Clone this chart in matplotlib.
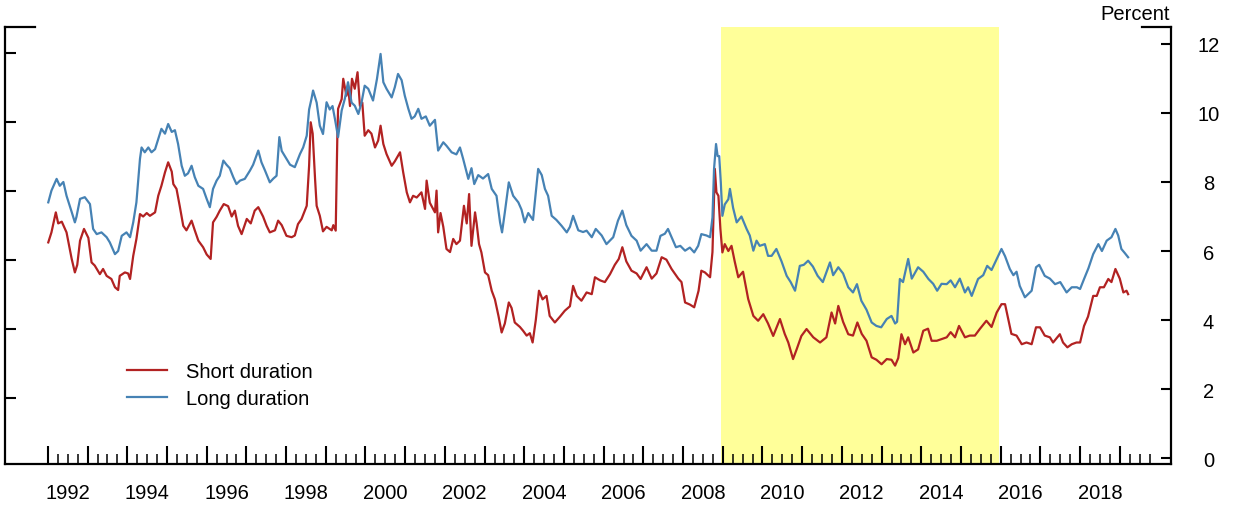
import numpy as np
import matplotlib
matplotlib.use("Agg")
import matplotlib.pyplot as plt
from matplotlib.ticker import FixedLocator, FuncFormatter

plt.rcParams['font.family'] = ['Liberation Sans', 'DejaVu Sans']

# long duration series (decimal year, percent)
long_dates = [
    1992.01, 1992.09, 1992.22, 1992.30, 1992.39, 1992.47, 1992.60, 1992.68, 1992.72, 1992.81,
    1992.93, 1993.06, 1993.14, 1993.23, 1993.35, 1993.48, 1993.56, 1993.69, 1993.77, 1993.86,
    1993.98, 1994.07, 1994.15, 1994.23, 1994.32, 1994.36, 1994.44, 1994.53, 1994.61, 1994.70,
    1994.78, 1994.86, 1994.95, 1995.03, 1995.12, 1995.20, 1995.28, 1995.37, 1995.45, 1995.53,
    1995.62, 1995.70, 1995.79, 1995.91, 1996.00, 1996.08, 1996.16, 1996.25, 1996.33, 1996.42,
    1996.50, 1996.58, 1996.67, 1996.75, 1996.84, 1996.96, 1997.09, 1997.17, 1997.30, 1997.38,
    1997.47, 1997.59, 1997.68, 1997.76, 1997.83, 1997.89, 1998.01, 1998.10, 1998.22, 1998.35,
    1998.43, 1998.52, 1998.58, 1998.64, 1998.68, 1998.77, 1998.85, 1998.93, 1999.02, 1999.10,
    1999.17, 1999.23, 1999.31, 1999.40, 1999.48, 1999.56, 1999.65, 1999.73, 1999.82, 1999.90,
    1999.98, 2000.07, 2000.19, 2000.29, 2000.38, 2000.45, 2000.53, 2000.66, 2000.74, 2000.82,
    2000.91, 2000.99, 2001.08, 2001.16, 2001.24, 2001.33, 2001.41, 2001.52, 2001.62, 2001.75,
    2001.83, 2001.96, 2002.04, 2002.17, 2002.29, 2002.38, 2002.46, 2002.59, 2002.67, 2002.74,
    2002.84, 2002.96, 2003.09, 2003.18, 2003.30, 2003.39, 2003.44, 2003.51, 2003.61, 2003.72,
    2003.85, 2003.93, 2004.01, 2004.10, 2004.22, 2004.35, 2004.44, 2004.52, 2004.60, 2004.69,
    2004.81, 2004.94, 2005.07, 2005.15, 2005.23, 2005.36, 2005.48, 2005.57, 2005.70, 2005.80,
    2005.95, 2006.07, 2006.24, 2006.36, 2006.47, 2006.57, 2006.70, 2006.83, 2006.93, 2007.08,
    2007.21, 2007.33, 2007.43, 2007.54, 2007.62, 2007.71, 2007.82, 2007.93, 2008.05, 2008.17,
    2008.28, 2008.38, 2008.46, 2008.59, 2008.68, 2008.74, 2008.78, 2008.83, 2008.87, 2008.91,
    2008.95, 2008.99, 2009.05, 2009.14, 2009.18, 2009.26, 2009.35, 2009.47, 2009.60, 2009.68,
    2009.77, 2009.85, 2009.93, 2010.06, 2010.14, 2010.23, 2010.35, 2010.48, 2010.61, 2010.71,
    2010.82, 2010.94, 2011.04, 2011.15, 2011.27, 2011.39, 2011.52, 2011.70, 2011.78, 2011.91,
    2012.03, 2012.16, 2012.28, 2012.38, 2012.49, 2012.62, 2012.75, 2012.87, 2012.99, 2013.13,
    2013.25, 2013.34, 2013.39, 2013.46, 2013.54, 2013.67, 2013.76, 2013.92, 2014.05, 2014.18,
    2014.30, 2014.40, 2014.51, 2014.64, 2014.74, 2014.85, 2014.97, 2015.10, 2015.18, 2015.27,
    2015.43, 2015.56, 2015.66, 2015.77, 2015.88, 2016.02, 2016.11, 2016.23, 2016.32, 2016.40,
    2016.48, 2016.61, 2016.69, 2016.78, 2016.89, 2016.97, 2017.11, 2017.24, 2017.37, 2017.50,
    2017.58, 2017.66, 2017.79, 2017.92, 2018.00, 2018.10, 2018.21, 2018.33, 2018.46, 2018.55,
    2018.67, 2018.79, 2018.89, 2018.96, 2019.04, 2019.12, 2019.21,
]
long_vals = [
    7.41, 7.75, 8.09, 7.89, 8.00, 7.60, 7.13, 6.83, 6.99, 7.51,
    7.56, 7.36, 6.64, 6.49, 6.54, 6.40, 6.25, 5.91, 6.00, 6.44,
    6.54, 6.40, 6.83, 7.41, 8.67, 9.00, 8.86, 9.00, 8.86, 8.95,
    9.25, 9.54, 9.40, 9.68, 9.45, 9.50, 9.10, 8.47, 8.18, 8.25,
    8.47, 8.14, 7.89, 7.80, 7.51, 7.27, 7.80, 8.04, 8.18, 8.62,
    8.50, 8.40, 8.14, 7.94, 8.04, 8.09, 8.33, 8.50, 8.91, 8.57,
    8.33, 7.99, 8.10, 8.18, 9.30, 8.90, 8.67, 8.50, 8.43, 8.81,
    9.00, 9.34, 10.10, 10.41, 10.65, 10.30, 9.63, 9.39, 10.31, 10.10,
    10.20, 9.83, 9.30, 10.07, 10.41, 10.89, 10.30, 10.21, 9.97, 10.30,
    10.79, 10.70, 10.36, 10.99, 11.71, 10.89, 10.70, 10.45, 10.75, 11.13,
    10.95, 10.50, 10.12, 9.83, 9.90, 10.12, 9.83, 9.90, 9.63, 9.80,
    8.91, 9.15, 9.05, 8.86, 8.80, 9.00, 8.67, 8.09, 8.40, 7.94,
    8.20, 8.10, 8.23, 7.80, 7.60, 6.83, 6.54, 7.12, 7.99, 7.60,
    7.41, 7.20, 6.83, 7.10, 6.90, 8.38, 8.20, 7.80, 7.60, 7.02,
    6.90, 6.73, 6.54, 6.70, 7.02, 6.60, 6.55, 6.59, 6.40, 6.64,
    6.45, 6.20, 6.40, 6.88, 7.17, 6.75, 6.44, 6.30, 6.01, 6.20,
    6.01, 6.01, 6.44, 6.50, 6.64, 6.40, 6.11, 6.15, 6.01, 6.10,
    5.96, 6.15, 6.49, 6.45, 6.40, 6.97, 8.38, 9.10, 8.75, 8.75,
    7.99, 7.02, 7.35, 7.50, 7.80, 7.25, 6.83, 7.00, 6.64, 6.45,
    6.01, 6.30, 6.15, 6.20, 5.86, 5.86, 6.06, 5.70, 5.28, 5.10,
    4.85, 5.57, 5.60, 5.72, 5.55, 5.28, 5.10, 5.67, 5.30, 5.53,
    5.35, 4.95, 4.80, 5.04, 4.56, 4.30, 3.93, 3.83, 3.79, 4.03,
    4.12, 3.90, 3.95, 5.19, 5.10, 5.77, 5.20, 5.53, 5.40, 5.19,
    5.05, 4.85, 5.05, 5.04, 5.15, 4.95, 5.20, 4.80, 4.95, 4.70,
    5.19, 5.30, 5.57, 5.45, 5.72, 6.06, 5.85, 5.48, 5.30, 5.40,
    4.99, 4.66, 4.75, 4.85, 5.53, 5.60, 5.28, 5.20, 5.04, 5.10,
    4.95, 4.80, 4.95, 4.95, 4.90, 5.19, 5.50, 5.91, 6.20, 6.00,
    6.30, 6.40, 6.64, 6.45, 6.06, 5.95, 5.82,
]

# short duration series (decimal year, percent)
short_dates = [
    1992.01, 1992.09, 1992.20, 1992.26, 1992.35, 1992.47, 1992.60, 1992.68, 1992.74, 1992.81,
    1992.91, 1993.02, 1993.10, 1993.18, 1993.31, 1993.39, 1993.48, 1993.60, 1993.69, 1993.77,
    1993.81, 1993.94, 1994.02, 1994.07, 1994.15, 1994.23, 1994.32, 1994.40, 1994.49, 1994.57,
    1994.70, 1994.78, 1994.86, 1994.95, 1995.03, 1995.12, 1995.16, 1995.24, 1995.32, 1995.41,
    1995.49, 1995.62, 1995.70, 1995.79, 1995.91, 1996.00, 1996.10, 1996.16, 1996.25, 1996.33,
    1996.43, 1996.54, 1996.63, 1996.71, 1996.79, 1996.88, 1997.01, 1997.11, 1997.21, 1997.30,
    1997.42, 1997.51, 1997.59, 1997.72, 1997.80, 1997.89, 1998.01, 1998.14, 1998.22, 1998.30,
    1998.39, 1998.52, 1998.58, 1998.62, 1998.67, 1998.73, 1998.77, 1998.85, 1998.93, 1999.02,
    1999.15, 1999.19, 1999.25, 1999.29, 1999.31, 1999.40, 1999.44, 1999.52, 1999.56, 1999.61,
    1999.66, 1999.73, 1999.80, 1999.86, 1999.92, 1999.98, 2000.07, 2000.15, 2000.24, 2000.32,
    2000.38, 2000.45, 2000.53, 2000.66, 2000.74, 2000.87, 2000.95, 2001.04, 2001.12, 2001.20,
    2001.29, 2001.41, 2001.50, 2001.54, 2001.62, 2001.75, 2001.79, 2001.83, 2001.89, 2001.96,
    2002.04, 2002.13, 2002.21, 2002.29, 2002.38, 2002.48, 2002.55, 2002.61, 2002.67, 2002.76,
    2002.80, 2002.86, 2002.92, 2003.01, 2003.09, 2003.18, 2003.26, 2003.35, 2003.43, 2003.51,
    2003.61, 2003.68, 2003.76, 2003.89, 2003.97, 2004.06, 2004.14, 2004.21, 2004.29, 2004.37,
    2004.46, 2004.56, 2004.64, 2004.77, 2004.90, 2005.02, 2005.15, 2005.23, 2005.32, 2005.44,
    2005.57, 2005.70, 2005.78, 2005.91, 2006.03, 2006.16, 2006.28, 2006.38, 2006.47, 2006.57,
    2006.70, 2006.83, 2006.93, 2007.08, 2007.21, 2007.33, 2007.46, 2007.58, 2007.71, 2007.88,
    2007.96, 2008.05, 2008.17, 2008.28, 2008.39, 2008.46, 2008.55, 2008.68, 2008.74, 2008.80,
    2008.84, 2008.89, 2008.94, 2008.99, 2009.05, 2009.14, 2009.22, 2009.30, 2009.39, 2009.51,
    2009.64, 2009.77, 2009.89, 2010.02, 2010.14, 2010.27, 2010.44, 2010.56, 2010.65, 2010.77,
    2010.86, 2010.98, 2011.11, 2011.28, 2011.45, 2011.61, 2011.74, 2011.83, 2011.91, 2012.03,
    2012.16, 2012.28, 2012.39, 2012.50, 2012.62, 2012.75, 2012.87, 2013.00, 2013.13, 2013.25,
    2013.34, 2013.42, 2013.50, 2013.59, 2013.67, 2013.80, 2013.92, 2014.05, 2014.17, 2014.26,
    2014.39, 2014.64, 2014.74, 2014.85, 2014.95, 2015.10, 2015.22, 2015.35, 2015.48, 2015.64,
    2015.77, 2015.90, 2016.02, 2016.11, 2016.19, 2016.27, 2016.40, 2016.53, 2016.65, 2016.78,
    2016.89, 2016.99, 2017.11, 2017.24, 2017.32, 2017.49, 2017.57, 2017.68, 2017.79, 2017.91,
    2018.00, 2018.10, 2018.20, 2018.33, 2018.42, 2018.50, 2018.60, 2018.71, 2018.79, 2018.89,
    2019.00, 2019.09, 2019.17, 2019.21,
]
short_vals = [
    6.25, 6.54, 7.12, 6.80, 6.85, 6.54, 5.77, 5.38, 5.60, 6.30,
    6.64, 6.38, 5.67, 5.58, 5.33, 5.48, 5.28, 5.19, 4.95, 4.87,
    5.28, 5.38, 5.35, 5.19, 5.86, 6.35, 7.07, 7.00, 7.10, 7.02,
    7.12, 7.60, 7.89, 8.28, 8.57, 8.30, 7.94, 7.80, 7.31, 6.73,
    6.60, 6.88, 6.60, 6.30, 6.11, 5.90, 5.77, 6.83, 6.99, 7.17,
    7.36, 7.30, 7.00, 7.17, 6.73, 6.49, 6.93, 6.80, 7.17, 7.27,
    7.00, 6.73, 6.54, 6.60, 6.88, 6.75, 6.44, 6.40, 6.45, 6.78,
    6.93, 7.31, 8.47, 9.73, 9.40, 8.09, 7.31, 7.02, 6.57, 6.70,
    6.60, 6.75, 6.59, 9.25, 10.12, 10.40, 10.99, 10.50, 10.80, 10.20,
    10.99, 10.70, 11.18, 10.20, 10.30, 9.34, 9.50, 9.40, 9.00, 9.20,
    9.63, 9.10, 8.81, 8.47, 8.60, 8.86, 8.28, 7.70, 7.41, 7.60,
    7.55, 7.70, 7.22, 8.04, 7.40, 7.12, 7.75, 6.54, 7.10, 6.70,
    6.06, 5.97, 6.35, 6.20, 6.30, 7.31, 6.80, 7.65, 6.15, 7.12,
    6.80, 6.20, 5.96, 5.38, 5.30, 4.85, 4.60, 4.12, 3.64, 3.90,
    4.51, 4.35, 3.93, 3.80, 3.69, 3.55, 3.62, 3.35, 4.00, 4.85,
    4.60, 4.70, 4.12, 3.93, 4.10, 4.27, 4.40, 4.99, 4.70, 4.56,
    4.80, 4.75, 5.24, 5.15, 5.10, 5.33, 5.60, 5.77, 6.11, 5.70,
    5.43, 5.35, 5.19, 5.53, 5.20, 5.35, 5.82, 5.75, 5.48, 5.20,
    5.10, 4.51, 4.45, 4.37, 4.85, 5.43, 5.38, 5.24, 5.97, 8.38,
    7.70, 7.60, 6.64, 5.96, 6.20, 6.00, 6.15, 5.70, 5.24, 5.40,
    4.61, 4.12, 3.98, 4.17, 3.90, 3.54, 4.03, 3.60, 3.35, 2.87,
    3.15, 3.54, 3.74, 3.50, 3.35, 3.50, 4.22, 3.90, 4.41, 3.95,
    3.59, 3.55, 3.93, 3.60, 3.40, 2.92, 2.85, 2.72, 2.87, 2.85,
    2.68, 2.90, 3.59, 3.30, 3.50, 3.06, 3.15, 3.69, 3.75, 3.40,
    3.40, 3.50, 3.65, 3.50, 3.83, 3.50, 3.55, 3.55, 3.75, 3.98,
    3.80, 4.22, 4.46, 4.46, 4.03, 3.60, 3.55, 3.30, 3.35, 3.30,
    3.79, 3.79, 3.55, 3.50, 3.35, 3.59, 3.35, 3.21, 3.30, 3.35,
    3.35, 3.83, 4.10, 4.70, 4.70, 4.95, 4.95, 5.19, 5.10, 5.48,
    5.20, 4.80, 4.85, 4.75,
]

shade_start, shade_end = 2008.96, 2015.96
year_labels = list(range(1992, 2019, 2))
right_ticks = [0, 2, 4, 6, 8, 10, 12]
left_ticks = [1.75, 3.75, 5.75, 7.75, 9.75, 11.75]

red = "#B22222"
blue = "#4682B4"
fs = 14.5

fig = plt.figure(figsize=(12.33, 5.06), dpi=100)
ax = fig.add_axes([5/1233, 41/506, 1166/1233, 437/506])
ax.set_xlim(1990.92, 2020.29)
ax.set_ylim(-0.17, 12.49)

ax.axvspan(shade_start, shade_end, color="#FFFF99", lw=0, zorder=0)
ax.plot(short_dates, short_vals, color=red, lw=1.6, label="Short duration", zorder=3)
ax.plot(long_dates, long_vals, color=blue, lw=1.6, label="Long duration", zorder=3)

for s in ["top", "right"]:
    ax.spines[s].set_visible(False)
for s in ["left", "bottom"]:
    ax.spines[s].set_linewidth(1.6)

# short top stubs at both corners
ax.plot([0, 0.0257], [1, 1], transform=ax.transAxes, color="black", lw=1.6, clip_on=False, solid_capstyle="projecting")
ax.plot([0.9755, 1], [1, 1], transform=ax.transAxes, color="black", lw=1.6, clip_on=False, solid_capstyle="projecting")

# x ticks: year starts (major), quarters (minor), labels at mid-year
ax.xaxis.set_major_locator(FixedLocator(np.arange(1992, 2020)))
minor_pos = [y + q for y in range(1992, 2020) for q in (0.25, 0.5, 0.75)]
ax.xaxis.set_minor_locator(FixedLocator(minor_pos))
ax.xaxis.set_major_formatter(FuncFormatter(lambda v, p: ""))

def mid_label(v, p):
    yr = int(np.floor(v))
    if abs(v - yr - 0.5) < 0.01 and yr in year_labels:
        return str(yr)
    return ""

ax.xaxis.set_minor_formatter(FuncFormatter(mid_label))
ax.tick_params(axis="x", which="major", direction="in", length=13, width=1.5)
ax.tick_params(axis="x", which="minor", direction="in", length=7, width=1.1,
               labelsize=fs, pad=13.5)

# left ticks without labels
ax.set_yticks(left_ticks)
ax.tick_params(axis="y", which="major", direction="in", length=8, width=1.5,
               labelleft=False)

# right axis with labels
ax2 = ax.twinx()
ax2.set_ylim(ax.get_ylim())
for s in ["top", "left", "bottom"]:
    ax2.spines[s].set_visible(False)
ax2.spines["right"].set_linewidth(1.6)
ax2.set_yticks(right_ticks)
ax2.set_yticklabels([str(t) for t in right_ticks])
ax2.tick_params(axis="y", direction="in", length=7, width=1.5, labelsize=fs, pad=27)
for lab in ax2.get_yticklabels():
    lab.set_horizontalalignment("center")

fig.text(1170/1233, 1 - 15/506, "Percent", ha="right", va="center", fontsize=fs)

ax.legend(loc="upper left", bbox_to_anchor=(127/1233, 1 - 363/506),
          bbox_transform=fig.transFigure, frameon=False, fontsize=fs,
          handlelength=2.0, handletextpad=0.95, labelspacing=0.42,
          borderpad=0, borderaxespad=0)

fig.savefig("out.png", dpi=100)
